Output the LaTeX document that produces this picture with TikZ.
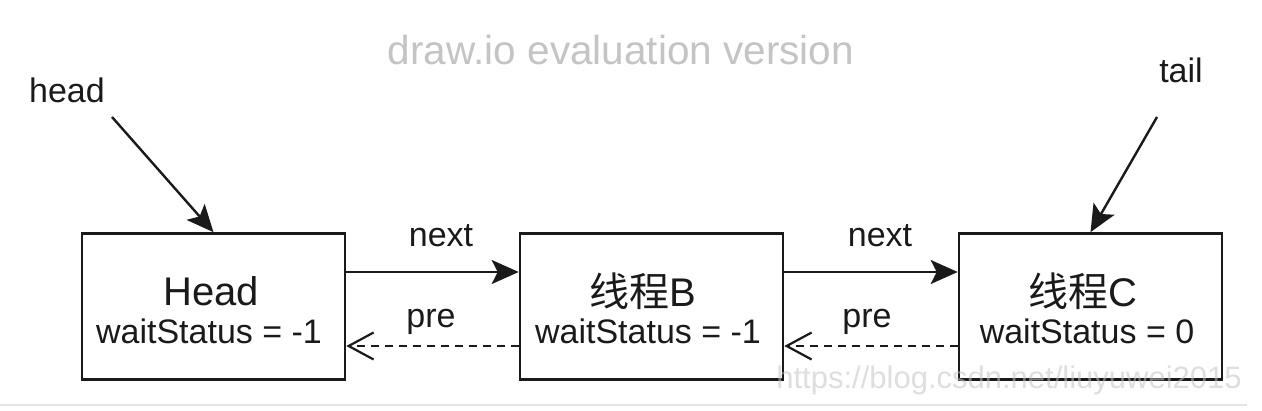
\documentclass[tikz,border=0pt]{standalone}
\usepackage{fontspec}
\setmainfont{Liberation Sans}
\newfontfamily\cjk{Noto Sans CJK SC}
\usetikzlibrary{arrows.meta}
\definecolor{ink}{HTML}{1A1A1A}
\definecolor{wm}{HTML}{C4C4C4}
\definecolor{wm2}{HTML}{E4E4E4}
\tikzset{
  nodebox/.style={draw=ink, line width=2.6pt, minimum width=263pt, minimum height=146pt, inner sep=0pt},
  lbl/.style={font=\fontsize{34}{37}\selectfont, text=ink, inner sep=0pt},
  nextarrow/.style={draw=ink, line width=2.4pt, -{Stealth[length=27pt,width=24pt,inset=6pt]}},
  prearrow/.style={draw=ink, line width=2pt, dash pattern=on 8pt off 6pt, -{Straight Barb[length=25pt,width=27pt,line width=2.2pt]}},
  ptrarrow/.style={draw=ink, line width=2.4pt, -{Stealth[length=27pt,width=24pt,inset=6pt]}},
}
\begin{document}
\begin{tikzpicture}[x=1pt,y=-1pt]
\useasboundingbox (0,0) rectangle (1262,410);
\fill[white] (0,0) rectangle (1262,410);
\draw[wm2, line width=2pt] (0,405) -- (1247,405);
\node[font=\fontsize{40.5}{44}\selectfont, text=wm, inner sep=0pt] (eval) at (621,50) {draw.io evaluation version};

\node[nodebox] (h) at (213.5,306.5) {};
\node[nodebox] (b) at (651.5,306.5) {};
\node[nodebox] (c) at (1090.5,306.5) {};

\node[font=\fontsize{40}{44}\selectfont, text=ink, inner sep=0pt] (ht) at (211,291) {Head};
\node[lbl] (hw) at (209,331) {waitStatus = -1};
\node[font=\fontsize{40}{44}\selectfont, text=ink, inner sep=0pt] (bt) at (643,291) {{\cjk 线程}B};
\node[lbl] (bw) at (648,331) {waitStatus = -1};
\node[font=\fontsize{40}{44}\selectfont, text=ink, inner sep=0pt] (ct) at (1083,291) {{\cjk 线程}C};
\node[lbl] (cw) at (1087,331) {waitStatus = 0};

\coordinate (hn) at (h.east |- 0,272);
\coordinate (bn) at (b.west |- 0,272);
\coordinate (bn2) at (b.east |- 0,272);
\coordinate (cn) at (c.west |- 0,272);
\coordinate (hp) at (h.east |- 0,346);
\coordinate (bp) at (b.west |- 0,346);
\coordinate (bp2) at (b.east |- 0,346);
\coordinate (cp) at (c.west |- 0,346);

\draw[nextarrow] (hn) -- (bn);
\draw[nextarrow] (bn2) -- (cn);
\draw[prearrow] (bp) -- (hp);
\draw[prearrow] (cp) -- (bp2);

\node[lbl] (n1) at (441,236) {next};
\node[lbl] (n2) at (880,236) {next};
\node[lbl] (p1) at (431,322) {pre};
\node[lbl] (p2) at (867,322) {pre};

\node[lbl] (head) at (67,90) {head};
\node[lbl] (tail) at (1181,70) {tail};
\coordinate (hs) at (112,117);
\coordinate (ts) at (1157,117);
\draw[ptrarrow] (hs) -- (h.north);
\draw[ptrarrow] (ts) -- (c.north);

\node[font=\fontsize{31}{34}\selectfont, text=wm, opacity=0.55, inner sep=0pt] (wmk) at (1009,380) {https://blog.csdn.net/liuyuwei2015};
\end{tikzpicture}
\end{document}
